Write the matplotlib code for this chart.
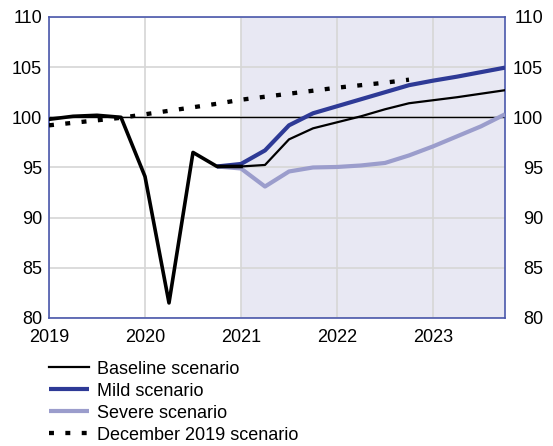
import matplotlib
matplotlib.use("Agg")
import matplotlib.pyplot as plt
import numpy as np

plt.rcParams['font.family'] = ['Liberation Sans', 'DejaVu Sans']

# Quarterly time axis
actual_x = [2019.0, 2019.25, 2019.5, 2019.75, 2020.0, 2020.25, 2020.5, 2020.75, 2021.0]
actual_y = [99.8, 100.1, 100.2, 100.0, 94.1, 81.5, 96.5, 95.1, 95.1]

proj_x = [2021.0, 2021.25, 2021.5, 2021.75, 2022.0, 2022.25, 2022.5, 2022.75,
          2023.0, 2023.25, 2023.5, 2023.75]
baseline = [95.1, 95.25, 97.8, 98.9, 99.5, 100.1, 100.8, 101.4, 101.7, 102.0, 102.35, 102.7]
mild = [95.35, 96.7, 99.2, 100.4, 101.1, 101.8, 102.5, 103.2, 103.65, 104.05, 104.5, 104.95]
severe = [94.9, 93.1, 94.6, 95.0, 95.05, 95.2, 95.45, 96.2, 97.1, 98.1, 99.1, 100.3]

dec19_x = [2019.0, 2019.25, 2019.5, 2019.75, 2020.0, 2020.25, 2020.5, 2020.75,
           2021.0, 2021.25, 2021.5, 2021.75, 2022.0, 2022.25, 2022.5, 2022.75]
dec19_y = [99.2, 99.45, 99.7, 99.95, 100.3, 100.65, 101.0, 101.35,
           101.75, 102.05, 102.35, 102.65, 102.95, 103.2, 103.45, 103.75]

year_ticks = [2019, 2020, 2021, 2022, 2023]
y_ticks = [80, 85, 90, 95, 100, 105, 110]

c_mild = '#2E3A96'
c_severe = '#9B9DCC'
c_shade = '#E8E8F3'
c_spine = '#4A58AC'

fig = plt.figure(figsize=(5.53, 4.46), dpi=100)
ax = fig.add_axes([0.0886, 0.287, 0.8246, 0.675])

ax.axvspan(2021.0, 2023.75, color=c_shade, zorder=0, lw=0)
ax.grid(True, color='#D6D6D6', lw=1.2, zorder=1)
ax.axhline(100, color='black', lw=1.0, zorder=2)

ax.plot([2020.75] + proj_x, [95.1] + severe, color=c_severe, lw=3.0, zorder=3,
        solid_capstyle='butt', label='Severe scenario')
ax.plot([2020.75] + proj_x, [95.1] + mild, color=c_mild, lw=3.0, zorder=4,
        solid_capstyle='butt', label='Mild scenario')
ax.plot(proj_x, baseline, color='black', lw=1.6, zorder=5, label='Baseline scenario')
ax.plot(actual_x, actual_y, color='black', lw=2.6, zorder=6)
ax.plot(dec19_x, dec19_y, color='black', lw=3.1, ls=(0, (1.15, 2.65)),
        dash_capstyle='butt', zorder=7, label='December 2019 scenario')

ax.set_xlim(2019.0, 2023.75)
ax.set_ylim(80, 110)
ax.set_xticks(year_ticks)
ax.set_xticklabels([str(y) for y in year_ticks])
ax.set_yticks(y_ticks)
ax.tick_params(axis='x', length=0, labelsize=13, colors='black', pad=8)
ax.tick_params(axis='y', length=0, labelsize=13, colors='black', pad=5)
for s in ax.spines.values():
    s.set_color(c_spine)
    s.set_linewidth(1.2)

# right-hand axis mirror, labels right-aligned
ax2 = ax.twinx()
ax2.set_ylim(80, 110)
ax2.set_yticks(y_ticks)
ax2.tick_params(axis='y', length=0, labelsize=13, colors='black', pad=27.5)
for t in ax2.get_yticklabels():
    t.set_horizontalalignment('right')
for s in ax2.spines.values():
    s.set_visible(False)

handles, labels = ax.get_legend_handles_labels()
order = ['Baseline scenario', 'Mild scenario', 'Severe scenario', 'December 2019 scenario']
hmap = dict(zip(labels, handles))
leg = fig.legend([hmap[k] for k in order], order, loc='upper left',
                 bbox_to_anchor=(0.089, 0.1915), frameon=False, fontsize=13,
                 handlelength=2.2, handletextpad=0.45, labelspacing=0.28,
                 borderaxespad=0, borderpad=0)

fig.savefig('out.png', dpi=100)
